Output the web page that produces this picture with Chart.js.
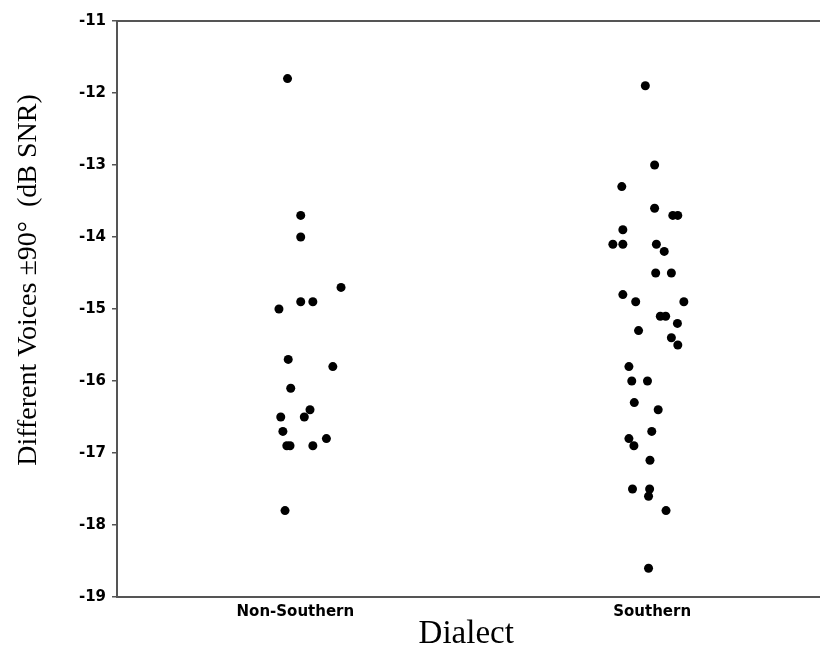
<!DOCTYPE html>
<html>
<head>
<meta charset="utf-8">
<script src="https://cdn.jsdelivr.net/npm/chart.js@4/dist/chart.umd.min.js"></script>
<style>
  body { margin: 0; background: #fff; overflow: hidden; }
  canvas { display: block; }
</style>
</head>
<body>
<canvas id="c" width="820" height="654"></canvas>
<script>
// categories on the x axis (1 and 2), points are jittered around them
const categories = ['Non-Southern', 'Southern'];
const yTicks = [-11, -12, -13, -14, -15, -16, -17, -18, -19];

// Non-Southern group: jittered x, dB SNR value
const nonSouthernX = [0.978, 1.015, 1.015, 1.128, 1.015, 1.049, 0.954, 0.980, 1.105, 0.987,
                      1.041, 0.959, 1.025, 0.965, 1.087, 0.976, 0.985, 1.049, 0.971];
const nonSouthernY = [-11.8, -13.7, -14.0, -14.7, -14.9, -14.9, -15.0, -15.7, -15.8, -16.1,
                      -16.4, -16.5, -16.5, -16.7, -16.8, -16.9, -16.9, -16.9, -17.8];

// Southern group
const southernX = [1.981, 2.007, 1.915, 2.007, 2.058, 2.072, 1.918, 1.890, 1.918, 2.012,
                   2.034, 2.010, 2.054, 1.918, 1.954, 2.089, 2.023, 2.038, 2.071, 1.962,
                   2.054, 2.072, 1.935, 1.943, 1.987, 1.950, 2.017, 1.999, 1.935, 1.949,
                   1.994, 1.945, 1.993, 1.990, 2.039, 1.990];
const southernY = [-11.9, -13.0, -13.3, -13.6, -13.7, -13.7, -13.9, -14.1, -14.1, -14.1,
                   -14.2, -14.5, -14.5, -14.8, -14.9, -14.9, -15.1, -15.1, -15.2, -15.3,
                   -15.4, -15.5, -15.8, -16.0, -16.0, -16.3, -16.4, -16.7, -16.8, -16.9,
                   -17.1, -17.5, -17.5, -17.6, -17.8, -18.6];

const toPoints = (xs, ys) => xs.map((x, i) => ({ x: x, y: ys[i] }));

// top/bottom frame lines + rotated y title (placed like the original, not centred)
const framePlugin = {
    id: 'frame',
    afterDraw(chart) {
        const ctx = chart.ctx;
        const a = chart.chartArea;
        ctx.save();
        ctx.strokeStyle = '#555';
        ctx.lineWidth = 2;
        ctx.beginPath();
        ctx.moveTo(a.left, a.top);
        ctx.lineTo(chart.width, a.top);
        ctx.moveTo(a.left - 1, a.bottom);
        ctx.lineTo(chart.width, a.bottom);
        ctx.stroke();

        ctx.translate(29, 280);
        ctx.rotate(-Math.PI / 2);
        ctx.fillStyle = '#000';
        ctx.font = '28px "Liberation Serif"';
        ctx.textAlign = 'center';
        ctx.textBaseline = 'middle';
        ctx.fillText('Different Voices \u00b190\u00b0  (dB SNR)', 0, 0);
        ctx.restore();
    }
};

new Chart(document.getElementById('c'), {
    type: 'scatter',
    data: {
        datasets: [
            { data: toPoints(nonSouthernX, nonSouthernY) },
            { data: toPoints(southernX, southernY) }
        ]
    },
    options: {
        responsive: false,
        animation: false,
        layout: { padding: { top: 21, left: 0, right: 0, bottom: 0 } },
        elements: {
            point: { radius: 4.5, backgroundColor: '#000', borderWidth: 0, hoverRadius: 4.5 }
        },
        plugins: { legend: { display: false }, tooltip: { enabled: false } },
        scales: {
            x: {
                type: 'linear',
                min: 0.5,
                max: 2.458,
                afterBuildTicks: s => { s.ticks = [{ value: 1 }, { value: 2 }]; },
                afterFit: s => { s.height = 57; },
                grid: { display: false, drawTicks: false },
                border: { display: false },
                ticks: {
                    padding: 6,
                    color: '#000',
                    font: { family: 'DejaVu Sans', size: 15, weight: 'bold' },
                    callback: v => categories[v - 1]
                },
                title: {
                    display: true,
                    text: 'Dialect',
                    color: '#000',
                    font: { family: 'Liberation Serif', size: 33 },
                    padding: { top: 0, bottom: 0 }
                }
            },
            y: {
                min: -19,
                max: -11,
                afterBuildTicks: s => { s.ticks = yTicks.map(v => ({ value: v })); },
                afterFit: s => { s.width = 117; },
                grid: { drawOnChartArea: false, drawTicks: true, tickLength: 5, color: '#555', lineWidth: 1.5 },
                border: { display: true, color: '#555', width: 2 },
                ticks: {
                    padding: 6,
                    color: '#000',
                    font: { family: 'DejaVu Sans', size: 15, weight: 'bold' }
                }
            }
        }
    },
    plugins: [framePlugin]
});
</script>
</body>
</html>
